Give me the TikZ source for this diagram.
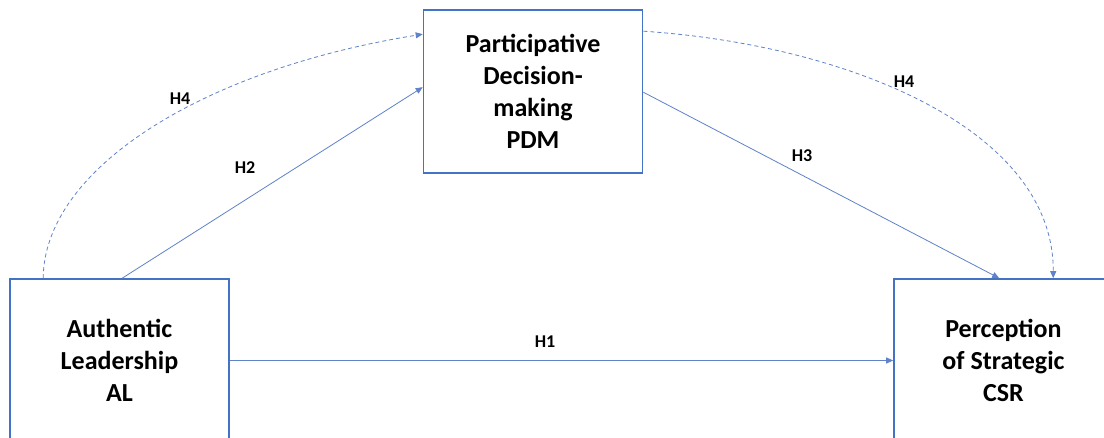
\documentclass[tikz,border=0pt]{standalone}
\usepackage{fontspec}
\setmainfont{Carlito}
\usetikzlibrary{arrows.meta,calc}
\definecolor{boxblue}{RGB}{68,114,196}
\definecolor{lineblue}{RGB}{95,130,200}
\begin{document}
\begin{tikzpicture}[x=1pt,y=-1pt,
  varbox/.style={draw=boxblue,line width=1.6pt,fill=white,minimum width=219pt,minimum height=163pt,
    align=center,inner sep=0pt,font=\bfseries\fontsize{26}{32}\selectfont},
  link/.style={draw=lineblue,line width=0.8pt,-{Triangle[length=7pt,width=6pt]}},
  dashlink/.style={link,dash pattern=on 4pt off 3pt},
  hlabel/.style={font=\bfseries\fontsize{18}{20}\selectfont,inner sep=1pt}]
\clip (0,0) rectangle (1104,438);
\fill[white] (0,0) rectangle (1104,438);
\node[varbox] (PDM) at (533,91.5) {Participative\\Decision-\\making\\PDM};
\node[varbox] (AL) at (119.5,360.5) {Authentic\\Leadership\\AL};
\node[varbox] (CSR) at (1003.5,360.5) {Perception\\of Strategic\\CSR};
\coordinate (h4a) at ($(AL.north west)+(34,0)$);
\coordinate (h2a) at ($(AL.north west)+(113,0)$);
\coordinate (h4b) at ($(PDM.north west)+(0,25)$);
\coordinate (h2b) at ($(PDM.north west)+(0,78)$);
\coordinate (h4c) at ($(PDM.north east)+(0,22)$);
\coordinate (h3a) at ($(PDM.north east)+(0,83)$);
\coordinate (h3b) at ($(CSR.north west)+(106,0)$);
\coordinate (h4d) at ($(CSR.north west)+(160,0)$);
\draw[dashlink] (h4a) .. controls (44,170) and (200,70) .. (h4b);
\draw[link] (h2a) -- (h2b);
\draw[link] (h3a) -- (h3b);
\draw[dashlink] (h4c) .. controls (850,45) and (1054,130) .. (h4d);
\draw[link] (AL.east) -- (CSR.west);
\node[hlabel] (l1) at (545,342) {H1};
\node[hlabel] (l2) at (245,168) {H2};
\node[hlabel] (l3) at (802,156) {H3};
\node[hlabel] (l4a) at (180,99) {H4};
\node[hlabel] (l4b) at (904,82) {H4};
\end{tikzpicture}
\end{document}
